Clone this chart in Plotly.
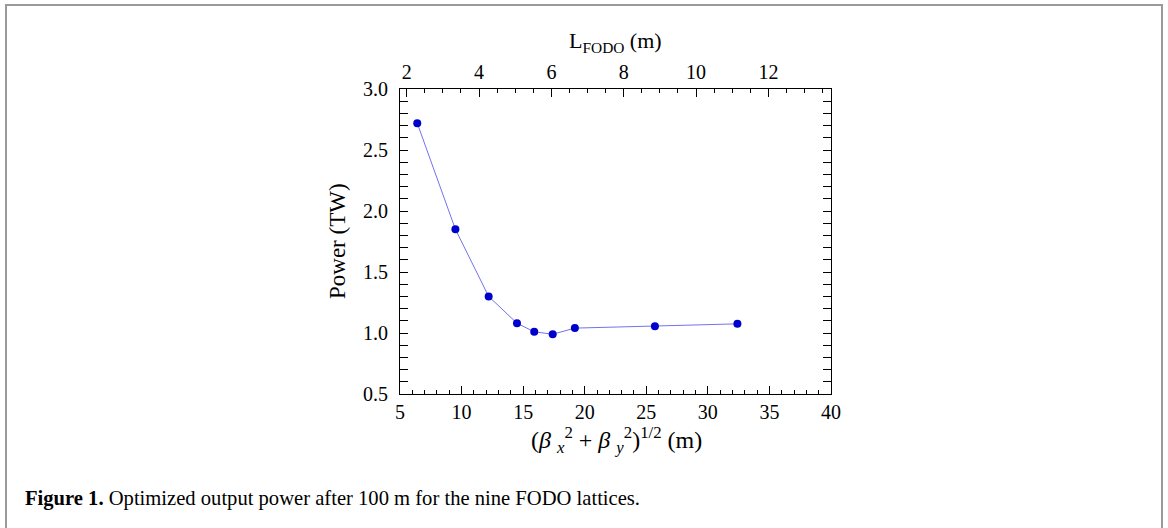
import plotly.graph_objects as go

# Data
beta_rms = [6.4, 9.5, 12.2, 14.5, 15.9, 17.4, 19.2, 25.7, 32.4]
power_tw = [2.72, 1.85, 1.30, 1.08, 1.01, 0.99, 1.04, 1.055, 1.075]

x_range = [5, 40]
y_range = [0.5, 3.0]
top_range = [1.815, 13.73]

FONT = "Liberation Serif"

# plot area pixel geometry
L, R, T, B = 400, 831, 89, 394
W, H = 1168, 528

def px(x):
    return (x - L) / (R - L)

def py(y):
    return (B - y) / (B - T)

fig = go.Figure()
fig.add_trace(go.Scatter(
    x=beta_rms, y=power_tw, mode="lines+markers",
    line=dict(color="#7272f0", width=1),
    marker=dict(color="#0000cc", size=8),
    showlegend=False, hoverinfo="skip",
))
# invisible trace for top axis
fig.add_trace(go.Scatter(x=top_range, y=[None, None], xaxis="x2", yaxis="y",
                         mode="markers", showlegend=False, hoverinfo="skip"))

tickfont = dict(family=FONT, size=20, color="black")

fig.update_layout(
    width=W, height=H,
    margin=dict(l=L, r=W - R, t=T, b=H - B, pad=0),
    paper_bgcolor="white", plot_bgcolor="white",
    font=dict(family=FONT, color="black"),
    xaxis=dict(range=x_range, dtick=5, tick0=0, ticks="inside", ticklen=8,
               tickwidth=1, tickcolor="black", showline=True, linecolor="black",
               linewidth=1, mirror=True, showgrid=False, zeroline=False,
               tickfont=tickfont, ticklabelstandoff=0,
               minor=dict(dtick=1, ticks="inside", ticklen=4, tickcolor="black",
                          showgrid=False)),
    xaxis2=dict(range=top_range, overlaying="x", side="top", dtick=2, tick0=0,
                ticks="inside", ticklen=8, tickwidth=1, tickcolor="black",
                showline=True, linecolor="black", linewidth=1, showgrid=False,
                zeroline=False, tickfont=tickfont, ticklabelstandoff=1,
                minor=dict(dtick=0.5, ticks="inside", ticklen=4, tickcolor="black",
                           showgrid=False)),
    yaxis=dict(range=y_range, dtick=0.5, tick0=0, ticks="inside", ticklen=8,
               tickwidth=1, tickcolor="black", showline=True, linecolor="black",
               linewidth=1, mirror="allticks", showgrid=False, zeroline=False,
               tickfont=tickfont, tickformat=".1f", ticklabelstandoff=7,
               minor=dict(dtick=0.1, ticks="inside", ticklen=4, tickcolor="black",
                          showgrid=False)),
)

NB = "\u00a0"
annotations = [
    dict(text="L<sub>FODO</sub> (m)", x=px(615), y=py(42), xref="paper", yref="paper",
         showarrow=False, font=dict(family=FONT, size=22), xanchor="center", yanchor="middle"),
    dict(text=f"(<i>β</i>{NB}<sub><i>x</i></sub><sup>2</sup> + <i>β</i>{NB}<sub><i>y</i></sub><sup>2</sup>)<sup>1/2</sup> (m)",
         x=px(616), y=py(440), xref="paper", yref="paper", showarrow=False,
         font=dict(family=FONT, size=24), xanchor="center", yanchor="middle"),
    dict(text="Power (TW)", x=px(337), y=py(241), xref="paper", yref="paper",
         showarrow=False, textangle=-90, font=dict(family=FONT, size=23),
         xanchor="center", yanchor="middle"),
    dict(text="<b>Figure 1.</b> Optimized output power after 100 m for the nine FODO lattices.",
         x=px(23), y=py(498), xref="paper", yref="paper", showarrow=False,
         font=dict(family=FONT, size=20.6), xanchor="left", yanchor="middle"),
]
fig.update_layout(annotations=annotations)

fig.add_shape(type="rect", xref="paper", yref="paper",
              x0=px(6), x1=px(1162), y0=py(560), y1=py(5),
              line=dict(color="#9a9a9a", width=2), layer="below")

fig.write_html("out.html")
